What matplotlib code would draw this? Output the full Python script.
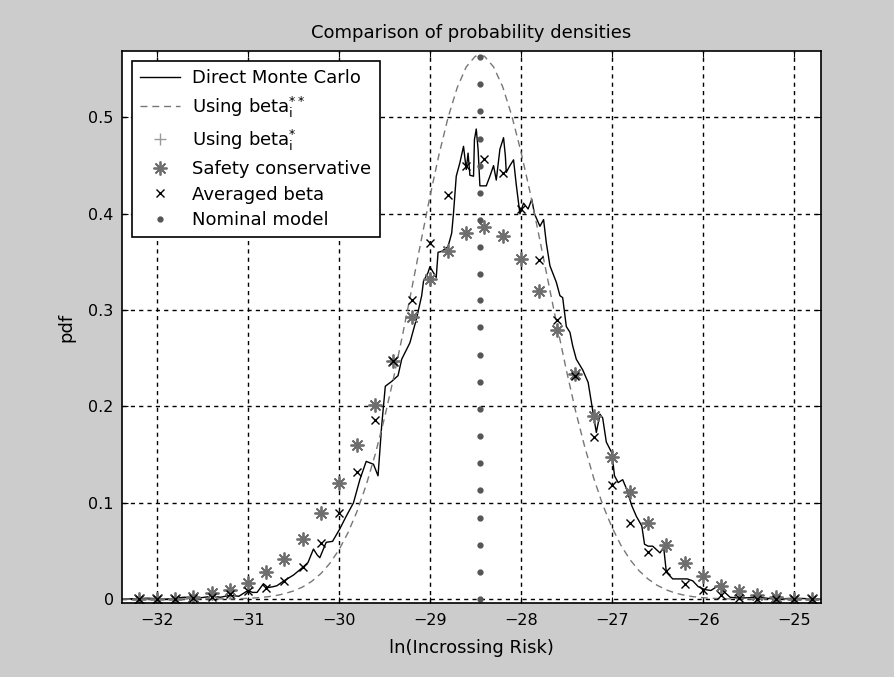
import numpy as np
import matplotlib
matplotlib.use("Agg")
import matplotlib.pyplot as plt

plt.rcParams['font.family'] = ['DejaVu Sans']
plt.rcParams['mathtext.default'] = 'regular'

# Direct Monte Carlo (jagged histogram line)
mc_x = [-32.38, -32.1, -31.9, -31.7, -31.55, -31.4, -31.3, -31.2, -31.1, -31.0,
        -30.95, -30.9, -30.83, -30.78, -30.72, -30.68, -30.62, -30.57, -30.5, -30.41,
        -30.34, -30.28, -30.24, -30.21, -30.14, -30.07, -29.99, -29.92, -29.84, -29.77,
        -29.7, -29.62, -29.57, -29.53, -29.49, -29.42, -29.35, -29.31, -29.22, -29.15,
        -29.09, -29.07, -29.02, -29.0, -28.93, -28.91, -28.87, -28.8, -28.76, -28.74,
        -28.71, -28.67, -28.63, -28.6, -28.58, -28.56, -28.52, -28.51, -28.49, -28.47,
        -28.45, -28.38, -28.34, -28.3, -28.27, -28.23, -28.19, -28.17, -28.16, -28.12,
        -28.08, -28.05, -28.03, -28.01, -27.97, -27.92, -27.88, -27.85, -27.79, -27.75,
        -27.72, -27.68, -27.61, -27.57, -27.54, -27.5, -27.46, -27.43, -27.39, -27.32,
        -27.26, -27.2, -27.17, -27.13, -27.1, -27.06, -27.0, -26.97, -26.93, -26.88,
        -26.84, -26.78, -26.73, -26.67, -26.64, -26.6, -26.55, -26.47, -26.43, -26.4,
        -26.33, -26.25, -26.17, -26.11, -26.05, -25.98, -25.91, -25.83, -25.78, -25.7,
        -25.6, -25.4, -25.2, -25.0, -24.7]
mc_y = [0.0, 0.001, 0.0, 0.002, 0.001, 0.003, 0.002, 0.004, 0.003, 0.009,
        0.007, 0.007, 0.016, 0.012, 0.013, 0.014, 0.018, 0.021, 0.025, 0.032,
        0.038, 0.052, 0.046, 0.043, 0.059, 0.060, 0.073, 0.086, 0.100, 0.124,
        0.143, 0.140, 0.128, 0.180, 0.221, 0.226, 0.232, 0.249, 0.266, 0.290,
        0.315, 0.330, 0.339, 0.345, 0.334, 0.360, 0.361, 0.366, 0.380, 0.401,
        0.439, 0.453, 0.470, 0.446, 0.463, 0.440, 0.439, 0.477, 0.488, 0.467,
        0.429, 0.429, 0.439, 0.450, 0.435, 0.467, 0.479, 0.460, 0.443, 0.450,
        0.456, 0.430, 0.415, 0.400, 0.411, 0.405, 0.415, 0.400, 0.387, 0.394,
        0.370, 0.346, 0.329, 0.315, 0.313, 0.283, 0.277, 0.263, 0.249, 0.238,
        0.225, 0.190, 0.173, 0.192, 0.188, 0.163, 0.152, 0.128, 0.121, 0.124,
        0.115, 0.097, 0.086, 0.076, 0.057, 0.055, 0.055, 0.048, 0.054, 0.028,
        0.021, 0.021, 0.021, 0.019, 0.013, 0.010, 0.009, 0.014, 0.009, 0.002,
        0.001, 0.002, 0.0, 0.001, 0.0]

# Using beta_i** (dashed smooth curve)
bss_x = [-32.38, -31.2, -31.1, -31.0, -30.9, -30.8, -30.7, -30.6, -30.5, -30.4, -30.3,
         -30.2, -30.1, -30.0, -29.9, -29.8, -29.7, -29.6, -29.5, -29.4, -29.3,
         -29.2, -29.1, -29.0, -28.9, -28.8, -28.7, -28.6, -28.5, -28.4, -28.3,
         -28.2, -28.1, -28.0, -27.9, -27.8, -27.7, -27.6, -27.5, -27.4, -27.3,
         -27.2, -27.1, -27.0, -26.9, -26.8, -26.7, -26.6, -26.5, -26.4, -26.3,
         -26.2, -26.1, -26.0, -25.9, -25.8, -25.7, -24.7]
bss_y = [0.0, 0.0003, 0.0005, 0.0008, 0.0014, 0.0023, 0.0036, 0.0056, 0.0085, 0.0126, 0.0184,
         0.0264, 0.0371, 0.0511, 0.0690, 0.0913, 0.1184, 0.1506, 0.1876, 0.2292, 0.2743,
         0.3219, 0.3703, 0.4175, 0.4614, 0.4999, 0.5308, 0.5525, 0.5636, 0.5636, 0.5525,
         0.5320, 0.5020, 0.4650, 0.4230, 0.3770, 0.3300, 0.2830, 0.2380, 0.1960, 0.1590,
         0.1260, 0.0980, 0.0750, 0.0560, 0.0410, 0.0295, 0.0208, 0.0143, 0.0096, 0.0063,
         0.0040, 0.0025, 0.0015, 0.0009, 0.0005, 0.0003, 0.0]

# marker abscissae (bin centres)
mk_x = [-32.2, -32.0, -31.8, -31.6, -31.4, -31.2, -31.0, -30.8, -30.6, -30.4,
        -30.2, -30.0, -29.8, -29.6, -29.4, -29.2, -29.0, -28.8, -28.6, -28.4,
        -28.2, -28.0, -27.8, -27.6, -27.4, -27.2, -27.0, -26.8, -26.6, -26.4,
        -26.2, -26.0, -25.8, -25.6, -25.4, -25.2, -25.0, -24.8]

# Safety conservative
safe_y = [0.000, 0.000, 0.000, 0.002, 0.006, 0.009, 0.017, 0.028, 0.042, 0.062,
          0.089, 0.121, 0.160, 0.202, 0.247, 0.293, 0.332, 0.361, 0.380, 0.386,
          0.377, 0.353, 0.320, 0.279, 0.234, 0.190, 0.148, 0.111, 0.079, 0.056,
          0.038, 0.024, 0.014, 0.008, 0.004, 0.002, 0.000, 0.000]

# Using beta_i*
bs_y = [0.000, 0.000, 0.000, 0.002, 0.006, 0.009, 0.017, 0.028, 0.042, 0.062,
        0.089, 0.121, 0.160, 0.202, 0.247, 0.293, 0.332, 0.361, 0.380, 0.386,
        0.377, 0.353, 0.320, 0.279, 0.234, 0.190, 0.148, 0.111, 0.079, 0.056,
        0.038, 0.024, 0.014, 0.008, 0.004, 0.002, 0.000, 0.000]

# Averaged beta
avg_y = [0.000, 0.000, 0.000, 0.001, 0.002, 0.005, 0.008, 0.012, 0.019, 0.033,
         0.058, 0.089, 0.132, 0.186, 0.247, 0.311, 0.370, 0.419, 0.450, 0.457,
         0.442, 0.405, 0.352, 0.290, 0.232, 0.168, 0.118, 0.079, 0.049, 0.029,
         0.016, 0.010, 0.004, 0.001, 0.000, 0.000, 0.000, 0.000]

# Nominal model (vertical column of dots)
nom_x = -28.45
nom_y = [0.0, 0.028, 0.056, 0.084, 0.113, 0.141, 0.169, 0.197, 0.225, 0.253,
         0.282, 0.310, 0.338, 0.366, 0.394, 0.422, 0.450, 0.478, 0.507, 0.535, 0.563]

fig = plt.figure(figsize=(8.95, 6.77), dpi=100, facecolor='#cccccc')
ax = fig.add_axes([0.1363, 0.1093, 0.7810, 0.8154])
ax.set_facecolor('white')

ax.plot(mc_x, mc_y, color='black', lw=1.0, label='Direct Monte Carlo')
ax.plot(bss_x, bss_y, color='#777777', lw=1.0, dashes=(5, 3.5),
        label='Using beta$_i^{**}$')
ax.plot(mk_x, bs_y, ls='none', marker='+', ms=9, mew=1.0, color='#999999',
        label='Using beta$_i^{*}$')
ax.plot(mk_x, safe_y, ls='none', marker=(8, 2, 0), ms=10, mew=1.3, color='#6e6e6e',
        label='Safety conservative')
ax.plot(mk_x, avg_y, ls='none', marker='x', ms=6, mew=1.0, color='black',
        label='Averaged beta')
ax.plot([nom_x] * len(nom_y), nom_y, ls='none', marker='.', ms=7, color='#555555',
        label='Nominal model')

ax.set_xlim(-32.385, -24.70)
ax.set_ylim(-0.004, 0.569)
ax.set_xticks([-32, -31, -30, -29, -28, -27, -26, -25])
ax.set_yticks([0, 0.1, 0.2, 0.3, 0.4, 0.5])
ax.set_yticklabels(['0', '0.1', '0.2', '0.3', '0.4', '0.5'])
ax.grid(True, color='black', lw=1.0, ls=(0, (3, 3)))
ax.tick_params(direction='in', top=True, right=True, length=4, labelsize=11.5,
               colors='black')
ax.tick_params(axis='x', pad=7)
ax.tick_params(axis='y', pad=6)
for s in ax.spines.values():
    s.set_linewidth(1.2)

ax.set_title('Comparison of probability densities', fontsize=13, pad=9)
ax.set_xlabel('ln(Incrossing Risk)', fontsize=13, labelpad=8)
ax.set_ylabel('pdf', fontsize=13, labelpad=9)

leg = ax.legend(loc='upper left', bbox_to_anchor=(0.0143, 0.982), borderaxespad=0,
                fontsize=13, frameon=True, fancybox=False, framealpha=1,
                edgecolor='black', handlelength=2.2, handletextpad=0.7,
                labelspacing=0.42, borderpad=0.45)
leg.get_frame().set_linewidth(1.2)

fig.savefig('out.png', dpi=100, facecolor=fig.get_facecolor())
